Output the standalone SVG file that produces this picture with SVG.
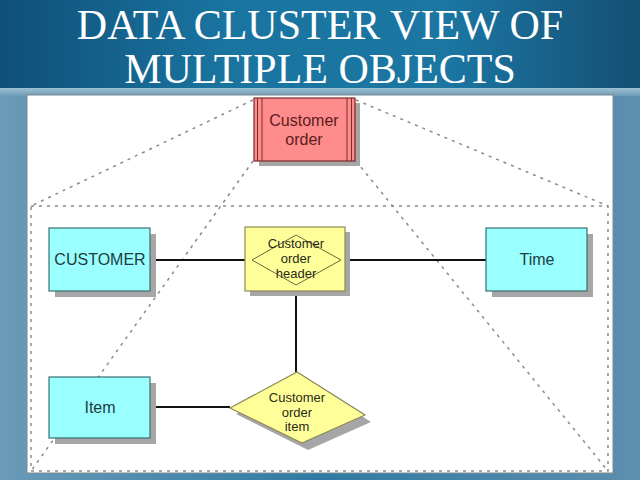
<svg xmlns="http://www.w3.org/2000/svg" width="640" height="480" viewBox="0 0 640 480">
<defs>
<linearGradient id="bg" x1="0" y1="0" x2="1" y2="0">
<stop offset="0" stop-color="#6a9bb8"/>
<stop offset="0.5" stop-color="#2f7aa3"/>
<stop offset="1" stop-color="#5e8fae"/>
</linearGradient>
<linearGradient id="tb" x1="0" y1="0" x2="1" y2="0">
<stop offset="0" stop-color="#0f4f78"/>
<stop offset="0.35" stop-color="#1a74a0"/>
<stop offset="0.7" stop-color="#1b76a2"/>
<stop offset="1" stop-color="#154f74"/>
</linearGradient>
<linearGradient id="band" x1="0" y1="0" x2="0" y2="1">
<stop offset="0" stop-color="#9cc0d4"/>
<stop offset="1" stop-color="#6e9bb6"/>
</linearGradient>
<style>
.title{font-family:"Liberation Serif","DejaVu Serif",serif;font-size:42px;fill:#ffffff;text-anchor:middle}
.lbl{font-family:"Liberation Sans",Arial,sans-serif;font-size:16px;text-anchor:middle}
.sm{font-size:13px}
.shadow{fill:#a6a6a6}
.cyan{fill:#99ffff;stroke:#3a6f72;stroke-width:1.2}
.dash{fill:none;stroke:#8a8a8a;stroke-width:1.5;stroke-dasharray:3 5}
.conn{fill:none;stroke:#111111;stroke-width:2}
</style>
</defs>
<rect x="0" y="0" width="640" height="480" fill="url(#bg)"/>
<rect x="0" y="0" width="640" height="90" fill="url(#tb)"/>
<rect x="0" y="88" width="640" height="8" fill="url(#band)"/>
<text class="title" x="320" y="39">DATA CLUSTER VIEW OF</text>
<text class="title" x="320" y="83">MULTIPLE OBJECTS</text>
<rect x="27" y="95" width="586" height="378" fill="#ffffff" stroke="#7d8a90" stroke-width="1"/>
<g id="connectors">
<rect class="dash" x="31" y="206" width="577" height="265"/>
<line class="dash" x1="253" y1="100" x2="31" y2="206"/>
<line class="dash" x1="356" y1="100" x2="608" y2="206"/>
<line class="dash" x1="253" y1="161" x2="31" y2="471"/>
<line class="dash" x1="356" y1="161" x2="608" y2="471"/>
<line class="conn" x1="150" y1="260" x2="252" y2="260"/>
<line class="conn" x1="341" y1="260" x2="486" y2="260"/>
<line class="conn" x1="296" y1="291" x2="296" y2="372"/>
<line class="conn" x1="150" y1="407" x2="230" y2="407"/>
</g>
<g id="customer-order">
<rect class="shadow" x="259" y="103" width="101" height="63"/>
<rect x="254" y="98" width="101" height="63" fill="#ff8c8c" stroke="#7a2a2a" stroke-width="1.2"/>
<line x1="257.5" y1="98" x2="257.5" y2="161" stroke="#7a2a2a" stroke-width="1"/>
<line x1="262" y1="98" x2="262" y2="161" stroke="#7a2a2a" stroke-width="1"/>
<line x1="347" y1="98" x2="347" y2="161" stroke="#7a2a2a" stroke-width="1"/>
<line x1="351.5" y1="98" x2="351.5" y2="161" stroke="#7a2a2a" stroke-width="1"/>
<text class="lbl" x="304" y="126" fill="#5a1c1c">Customer</text>
<text class="lbl" x="304" y="145" fill="#5a1c1c">order</text>
</g>
<g id="customer">
<rect class="shadow" x="55" y="234" width="101" height="63"/>
<rect class="cyan" x="49" y="228" width="101" height="63"/>
<text class="lbl" x="100" y="265" fill="#1e3c40">CUSTOMER</text>
</g>
<g id="time">
<rect class="shadow" x="492" y="234" width="101" height="63"/>
<rect class="cyan" x="486" y="228" width="101" height="63"/>
<text class="lbl" x="537" y="265" fill="#1e3c40">Time</text>
</g>
<g id="item">
<rect class="shadow" x="55" y="383" width="101" height="61"/>
<rect class="cyan" x="49" y="377" width="101" height="61"/>
<text class="lbl" x="100" y="413" fill="#1e3c40">Item</text>
</g>
<g id="customer-order-header">
<rect class="shadow" x="250" y="232" width="100" height="64"/>
<rect x="245" y="227" width="100" height="64" fill="#ffff99" stroke="#8a8a5a" stroke-width="1.2"/>
<polygon points="252,260 296,235 341,260 296,285" fill="none" stroke="#6a6a40" stroke-width="1"/>
<text class="lbl sm" x="296" y="248" fill="#2a2a1a">Customer</text>
<text class="lbl sm" x="296" y="263" fill="#2a2a1a">order</text>
<text class="lbl sm" x="296" y="278" fill="#2a2a1a">header</text>
</g>
<g id="customer-order-item">
<polygon points="236,414 302,377 371,422 308,450" class="shadow"/>
<polygon points="230,408 297,372 365,415 302,443" fill="#ffff99" stroke="#8a8a5a" stroke-width="1.2"/>
<text class="lbl sm" x="297" y="402" fill="#2a2a1a">Customer</text>
<text class="lbl sm" x="297" y="417" fill="#2a2a1a">order</text>
<text class="lbl sm" x="297" y="431" fill="#2a2a1a">item</text>
</g>
</svg>
